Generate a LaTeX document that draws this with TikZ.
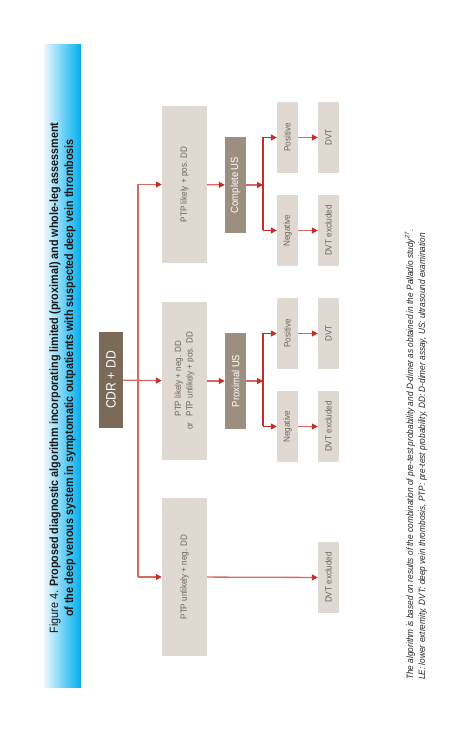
\documentclass[tikz,border=0pt]{standalone}
\usepackage{fontspec}
\setmainfont{Liberation Sans}[FakeStretch=0.9]
\usepackage{tikz}
\usetikzlibrary{arrows.meta}
\definecolor{boxgrey}{HTML}{E0D9D1}
\definecolor{boxtext}{HTML}{6E655C}
\definecolor{usbrown}{HTML}{9C8F80}
\definecolor{cdrbrown}{HTML}{7B6A57}
\definecolor{linered}{HTML}{D9695E}
\definecolor{tipred}{HTML}{C62D25}
\definecolor{barcyan}{HTML}{00AEEF}
\definecolor{barpale}{HTML}{EEF8FE}
\tikzset{
  box/.style={fill=boxgrey, text=boxtext, inner sep=0pt, align=center,
    font=\fontsize{9}{11.5}\selectfont},
  usbox/.style={fill=usbrown, text=white, inner sep=0pt, minimum width=96, minimum height=21,
    font=\fontsize{10.5}{12}\selectfont},
  result/.style={box, minimum width=71, minimum height=21},
  prob/.style={box, minimum width=158, minimum height=45},
  flow/.style={draw=linered, line width=1.3pt},
  arr/.style={flow, -{Triangle[length=6pt, width=6pt, color=tipred]}},
  darr/.style={arr, draw=tipred},
}
\begin{document}
\begin{tikzpicture}[x=1pt, y=1pt]
\useasboundingbox (0,0) rectangle (465,736);
\begin{scope}[shift={(465,0)}, rotate=90, transform shape]
  \shade[left color=barpale, right color=barcyan, middle color=barcyan!55!white]
    (48,384) rectangle (691,421);
  \node (title) [align=center, text=black!90, font=\fontsize{12}{15}\selectfont] at (358,402.5)
    {Figure 4. \textbf{Proposed diagnostic algorithm incorporating limited (proximal) and whole-leg assessment}\\
     \textbf{of the deep venous system in symptomatic outpatients with suspected deep vein thrombosis}};

  \node (cdr) [fill=cdrbrown, text=white, inner sep=0pt, minimum width=96, minimum height=24,
    font=\fontsize{13.5}{15}\selectfont] at (356,354) {CDR + DD};

  \node (lowprob)  [prob] at (159,280.5) {PTP unlikely + neg. DD};
  \node (midprob)  [prob] at (355,280.5)
    {\begin{tabular}{@{}r@{\hspace{0.7em}}l@{}} & PTP likely + neg. DD\\ or & PTP unlikely + pos. DD\end{tabular}};
  \node (highprob) [prob, minimum width=157] at (551.5,280.5) {PTP likely + pos. DD};

  \node (proxus) [usbox] at (355,229.5) {Proximal US};
  \node (compus) [usbox] at (551,229.5) {Complete US};

  \node (proxneg)  [result] at (309.5,177.5) {Negative};
  \node (proxpos)  [result] at (402.5,177.5) {Positive};
  \node (compneg)  [result] at (505.5,177.5) {Negative};
  \node (comppos)  [result] at (598.5,177.5) {Positive};

  \node (lowexcl)  [result] at (158.5,136.5) {DVT excluded};
  \node (proxexcl) [result] at (309.5,136.5) {DVT excluded};
  \node (proxdvt)  [result] at (402.5,136.5) {DVT};
  \node (compexcl) [result] at (505.5,136.5) {DVT excluded};
  \node (compdvt)  [result] at (598.5,136.5) {DVT};

  \coordinate (busL) at (lowprob.north |- 0,327);
  \coordinate (busR) at (highprob.north |- 0,327);
  \coordinate (proxj) at (proxus.south |- 0,202);
  \coordinate (compj) at (compus.south |- 0,202);

  \draw[flow] (busL) -- (busR);
  \draw[arr] (cdr) -- (midprob);
  \draw[arr] (busL) -- (lowprob);
  \draw[arr] (busR) -- (highprob);
  \draw[arr] (lowprob) -- (lowexcl);
  \draw[arr] (midprob) -- (proxus);
  \draw[arr] (highprob) -- (compus);
  \draw[arr] (proxus) -- (proxj);
  \draw[arr] (compus) -- (compj);
  \draw[flow, draw=tipred] (proxj -| proxneg) -- (proxj -| proxpos);
  \draw[flow, draw=tipred] (compj -| compneg) -- (compj -| comppos);
  \draw[darr] (proxj -| proxneg) -- (proxneg);
  \draw[darr] (proxj -| proxpos) -- (proxpos);
  \draw[darr] (compj -| compneg) -- (compneg);
  \draw[darr] (compj -| comppos) -- (comppos);
  \draw[arr] (proxneg) -- (proxexcl);
  \draw[arr] (proxpos) -- (proxdvt);
  \draw[arr] (compneg) -- (compexcl);
  \draw[arr] (comppos) -- (compdvt);

  \node (note) [anchor=west, align=left, text=black!85, inner sep=0pt,
    font=\itshape\fontsize{9.2}{12}\selectfont] at (56,49)
    {The algorithm is based on results of the combination of pre-test probability and D-dimer as obtained in the Palladio study\textsuperscript{27}.\\
     LE: lower extremity, DVT: deep vein thrombosis, PTP: pre-test probability, DD: D-dimer assay, US: ultrasound examination};
\end{scope}
\end{tikzpicture}
\end{document}
